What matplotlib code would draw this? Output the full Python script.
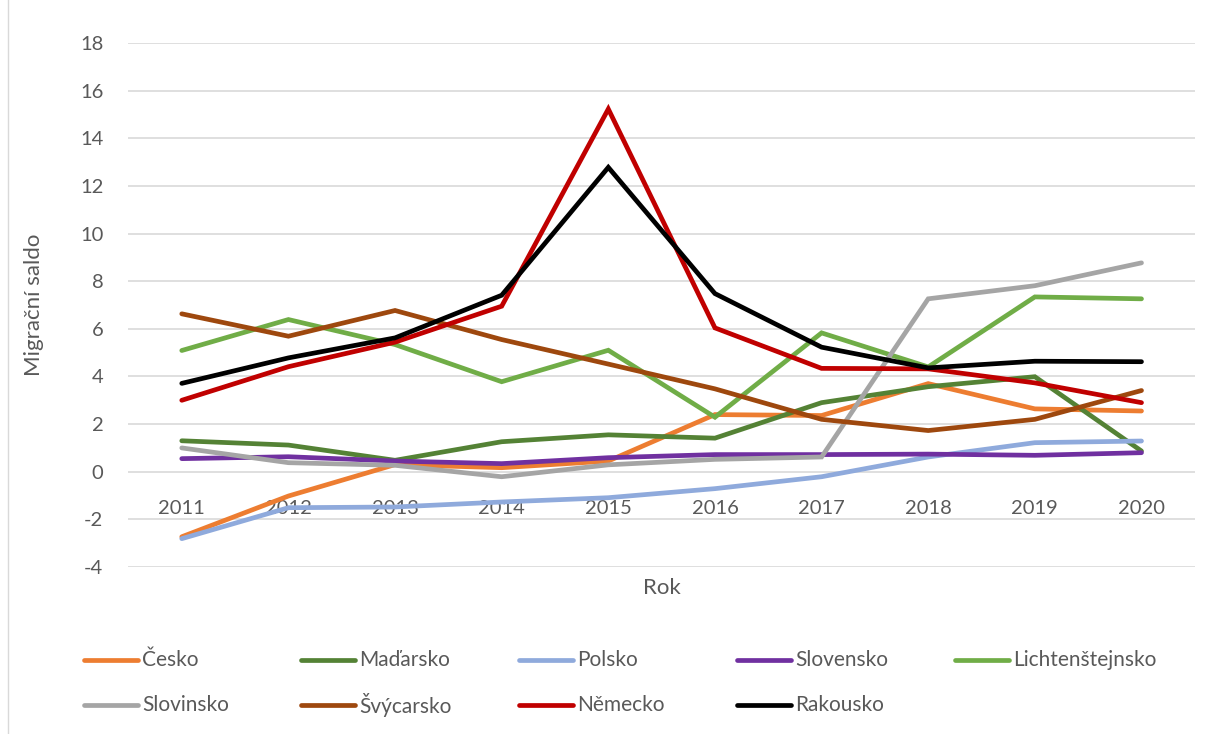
import matplotlib
matplotlib.use("Agg")
import matplotlib.pyplot as plt
from matplotlib.lines import Line2D

plt.rcParams['font.family'] = ['Lato', 'DejaVu Sans']
plt.rcParams['axes.unicode_minus'] = False

years = [2011, 2012, 2013, 2014, 2015, 2016, 2017, 2018, 2019, 2020]

cesko = [-2.73, -1.02, 0.30, 0.17, 0.45, 2.40, 2.36, 3.70, 2.64, 2.55]
madarsko = [1.30, 1.12, 0.48, 1.26, 1.55, 1.41, 2.90, 3.57, 3.99, 0.87]
polsko = [-2.81, -1.51, -1.48, -1.27, -1.09, -0.71, -0.21, 0.62, 1.22, 1.29]
slovensko = [0.55, 0.63, 0.45, 0.34, 0.59, 0.72, 0.72, 0.74, 0.69, 0.80]
lichtenstejnsko = [5.09, 6.39, 5.34, 3.78, 5.10, 2.29, 5.83, 4.40, 7.34, 7.26]
slovinsko = [1.00, 0.38, 0.27, -0.21, 0.29, 0.52, 0.62, 7.26, 7.81, 8.77]
svycarsko = [6.63, 5.69, 6.77, 5.55, 4.52, 3.48, 2.20, 1.73, 2.20, 3.41]
nemecko = [3.00, 4.41, 5.44, 6.95, 15.23, 6.04, 4.34, 4.32, 3.73, 2.90]
rakousko = [3.71, 4.78, 5.62, 7.41, 12.78, 7.48, 5.23, 4.36, 4.64, 4.62]

series = [
    ("Česko", cesko, "#ED7D31"),
    ("Maďarsko", madarsko, "#548235"),
    ("Polsko", polsko, "#8FAADC"),
    ("Slovensko", slovensko, "#7030A0"),
    ("Lichtenštejnsko", lichtenstejnsko, "#70AD47"),
    ("Slovinsko", slovinsko, "#A5A5A5"),
    ("Švýcarsko", svycarsko, "#9E480E"),
    ("Německo", nemecko, "#C00000"),
    ("Rakousko", rakousko, "#000000"),
]

fig = plt.figure(figsize=(12.13, 7.34), dpi=100)
ax = fig.add_axes([0.1059, 0.2275, 0.8791, 0.7139])

x = list(range(len(years)))
for name, vals, col in series:
    ax.plot(x, vals, color=col, lw=3.4, solid_capstyle='round', solid_joinstyle='miter', zorder=3)

ax.set_xlim(-0.5, len(years) - 0.5)
ax.set_ylim(-4, 18)
ax.set_yticks(range(-4, 19, 2))
ax.yaxis.grid(True, color="#D9D9D9", lw=1.2)
ax.set_axisbelow(True)
for s in ax.spines.values():
    s.set_visible(False)
ax.spines['bottom'].set_position(('data', 0))
ax.set_xticks(x)
ax.set_xticklabels([str(y) for y in years])
ax.tick_params(axis='both', length=0, labelsize=14.5, labelcolor="#595959")
ax.tick_params(axis='x', pad=20)
ax.tick_params(axis='y', pad=18)

fig.text(0.028, 0.585, "Migrační saldo", rotation=90, ha='center', va='center',
         fontsize=16, color="#595959")
fig.text(0.546, 0.199, "Rok", ha='center', va='center', fontsize=16, color="#595959")

# legend laid out like the Excel one
col_x = [84, 301, 519, 737, 955]
row_y = [660, 705]
W, H = 1213.0, 734.0
for i, (name, vals, col) in enumerate(series):
    r, c = divmod(i, 5)
    x0 = col_x[c] / W
    yy = 1 - row_y[r] / H
    fig.add_artist(Line2D([x0, x0 + 54 / W], [yy, yy], color=col, lw=3.4,
                          solid_capstyle='round', transform=fig.transFigure))
    fig.text(x0 + 58 / W, yy, name, ha='left', va='center', fontsize=15, color="#595959")

# chart border on the left
fig.add_artist(Line2D([8 / W, 8 / W], [0, 1], color="#D9D9D9", lw=1,
                      transform=fig.transFigure))

fig.savefig("out.png", dpi=100)
